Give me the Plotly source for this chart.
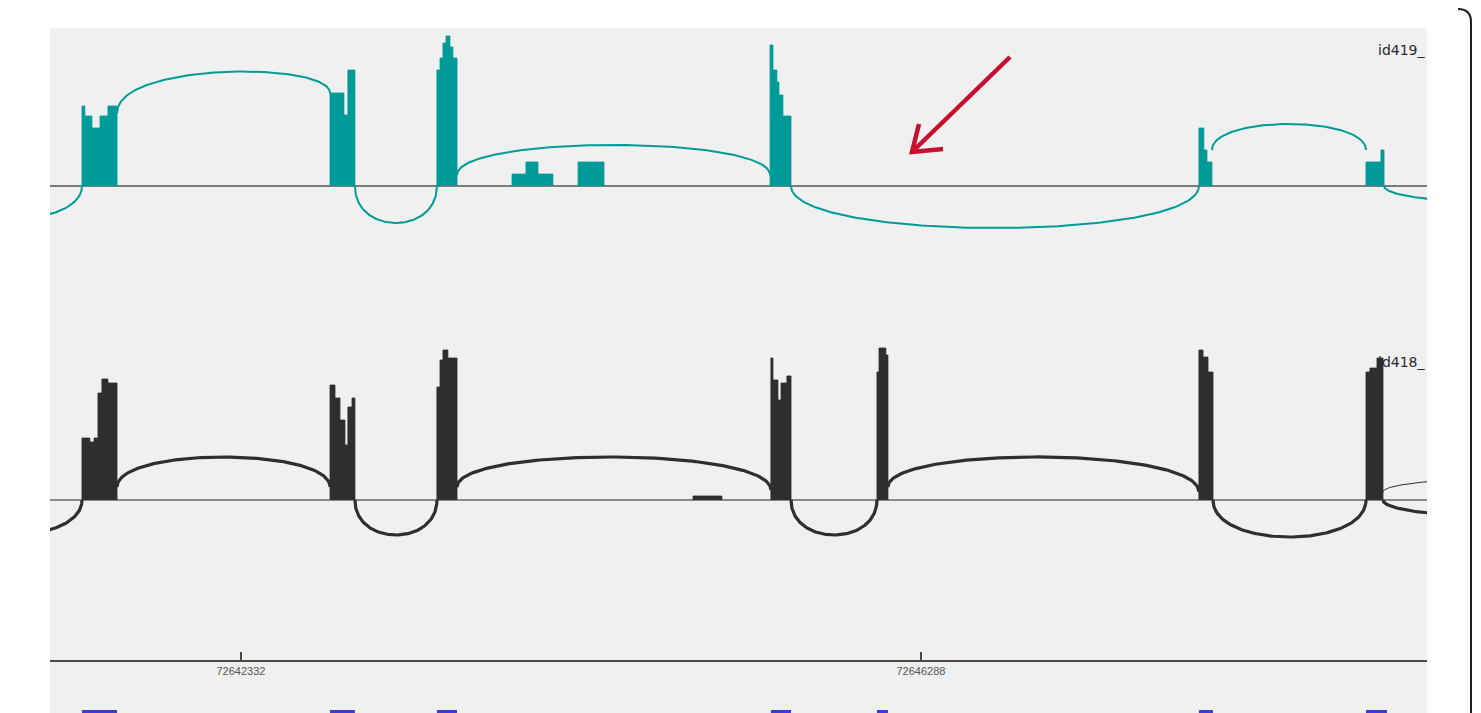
import numpy as np
import plotly.graph_objects as go

# ---------------- data ----------------
x_range = [72641221, 72649232]
tick_vals = [72642332, 72646288]
tick_text = ["72642332", "72646288"]

track_labels = ["id419_", "id418_"]

# top track (id419) coverage: exon breakpoints and step heights
top_cov_breaks = [
    [72641407, 72641424, 72641465, 72641512, 72641558, 72641611],
    [72642850, 72642931, 72642954, 72642995],
    [72643472, 72643490, 72643507, 72643525, 72643548, 72643565, 72643589],
    [72643909, 72643990, 72644060, 72644147],
    [72644293, 72644444],
    [72645410, 72645427, 72645450, 72645462, 72645485, 72645532],
    [72647905, 72647934, 72647952, 72647981],
    [72648877, 72648964, 72648982],
]
top_cov_heights = [
    [80, 70, 58, 70, 80],
    [93, 71, 116],
    [116, 128, 143, 150, 139, 128],
    [12, 24, 12],
    [24],
    [141, 116, 104, 91, 70],
    [58, 36, 24],
    [24, 36],
]

# top track junctions
top_j_start = [72640581, 72641611, 72642995, 72643589, 72645532, 72647981, 72648982]
top_j_end   = [72641407, 72642850, 72643472, 72645410, 72647905, 72648877, 72650820]
top_j_y0    = [0, 73, 0, 11, 0, 36, 0]
top_j_y1    = [0, 93, 0, 11, 0, 36, 0]
top_j_apex  = [-33, 114, -37, 41, -42, 62, -18]

# bottom track (id418) coverage
bot_cov_breaks = [
    [72641407, 72641453, 72641477, 72641500, 72641523, 72641558, 72641611],
    [72642850, 72642879, 72642908, 72642937, 72642954, 72642978, 72642995],
    [72643472, 72643490, 72643507, 72643536, 72643589],
    [72644962, 72645130],
    [72645415, 72645427, 72645456, 72645474, 72645508, 72645532],
    [72646032, 72646044, 72646084, 72646096],
    [72647905, 72647929, 72647958, 72647987],
    [72648877, 72648900, 72648941, 72648976],
]
bot_cov_heights = [
    [62, 58, 62, 107, 121, 117],
    [115, 102, 80, 55, 93, 102],
    [113, 140, 150, 142],
    [4],
    [142, 120, 100, 117, 124],
    [128, 152, 145],
    [150, 143, 128],
    [128, 132, 142],
]

# bottom track junctions
bot_j_start = [72640581, 72641611, 72642995, 72643589, 72645532, 72646096, 72647987, 72648976, 72648976]
bot_j_end   = [72641407, 72642850, 72643472, 72645415, 72646032, 72647905, 72648877, 72651402, 72650820]
bot_j_y0    = [0, 13, 0, 13, 0, 13, 0, 8, 0]
bot_j_y1    = [0, 13, 0, 10, 0, 8, 0, 8, 0]
bot_j_apex  = [-35, 43, -35, 43, -35, 43, -37, 24, -18]
bot_j_count = [35, 42, 38, 45, 40, 44, 36, 3, 30]

# gene model exons (bottom strip)
gene_exon_start = [72641407, 72642850, 72643472, 72645415, 72646032, 72647905, 72648877]
gene_exon_end   = [72641611, 72642995, 72643589, 72645532, 72646096, 72647987, 72648999]

TEAL = "#009b98"
DARK = "#2e2e2e"

OFF = 8                      # default page body margin
W, H = 1481 - OFF, 713 - OFF
# plot area in reference-image pixels: x 50..1427, y 28..713
ML, MT = 50 - OFF, 28 - OFF
MR, MB = W - (1427 - OFF), 0
PW, PH = W - ML - MR, H - MT - MB


def P(px, py):
    """reference-image pixel -> paper coords (decorations only)"""
    return (px - OFF - ML) / PW, (H - MB - (py - OFF)) / PH


def coverage_xy(breaks, heights):
    xs, ys = [], []
    for b, h in zip(breaks, heights):
        xs.append(b[0]); ys.append(0)
        for i, v in enumerate(h):
            xs += [b[i], b[i + 1]]
            ys += [v, v]
        xs.append(b[-1]); ys.append(0)
        xs.append(None); ys.append(None)
    return xs, ys


def arc(x0, x1, y0, y1, apex):
    Hc = (apex - 0.125 * (y0 + y1)) / 0.75
    t = np.linspace(0, 1, 120)
    x = (1 - t) ** 3 * x0 + 3 * (1 - t) ** 2 * t * x0 + 3 * (1 - t) * t ** 2 * x1 + t ** 3 * x1
    y = (1 - t) ** 3 * y0 + 3 * (1 - t) ** 2 * t * Hc + 3 * (1 - t) * t ** 2 * Hc + t ** 3 * y1
    return x, y


fig = go.Figure()

# coverage
for breaks, heights, col, ya in [(top_cov_breaks, top_cov_heights, TEAL, "y"),
                                 (bot_cov_breaks, bot_cov_heights, DARK, "y2")]:
    xs, ys = coverage_xy(breaks, heights)
    fig.add_trace(go.Scatter(x=xs, y=ys, mode="lines", fill="toself", fillcolor=col,
                             line=dict(color=col, width=0.8), yaxis=ya, hoverinfo="skip"))

# junction arcs
for s, e, a, b, ap in zip(top_j_start, top_j_end, top_j_y0, top_j_y1, top_j_apex):
    x, y = arc(s, e, a, b, ap)
    fig.add_trace(go.Scatter(x=x, y=y, mode="lines", line=dict(color=TEAL, width=2),
                             yaxis="y", hoverinfo="skip"))
for s, e, a, b, ap, c in zip(bot_j_start, bot_j_end, bot_j_y0, bot_j_y1, bot_j_apex, bot_j_count):
    x, y = arc(s, e, a, b, ap)
    fig.add_trace(go.Scatter(x=x, y=y, mode="lines",
                             line=dict(color=DARK, width=1 if c < 5 else 3.2),
                             yaxis="y2", hoverinfo="skip"))

shapes = []
# baselines
shapes.append(dict(type="line", xref="paper", yref="y", x0=0, x1=1, y0=0, y1=0,
                   line=dict(color="#7c7c7c", width=2), layer="below"))
shapes.append(dict(type="line", xref="paper", yref="y2", x0=0, x1=1, y0=0, y1=0,
                   line=dict(color="#8a8a8a", width=2), layer="below"))
# gene model blocks
for s, e in zip(gene_exon_start, gene_exon_end):
    shapes.append(dict(type="rect", xref="x", yref="paper", x0=s, x1=e, y0=0, y1=3 / PH,
                       fillcolor="#3c3cd2", line=dict(width=0)))
# red arrow
ax0, ay0 = P(1010, 57)
ax1, ay1 = P(913, 151)
shapes.append(dict(type="line", xref="paper", yref="paper", x0=ax0, y0=ay0, x1=ax1, y1=ay1,
                   line=dict(color="#c8102e", width=4.5)))
h1 = P(919, 124); h2 = P(912, 152); h3 = P(943, 149)
shapes.append(dict(type="path", xref="paper", yref="paper",
                   path=f"M {h1[0]},{h1[1]} L {h2[0]},{h2[1]} L {h3[0]},{h3[1]}",
                   line=dict(color="#c8102e", width=4.5)))
# right frame border with rounded corner (visible page area ends ~1473 px)
BX = 1471
b0 = P(BX, 713); b1 = P(BX, 22)
shapes.append(dict(type="line", xref="paper", yref="paper",
                   x0=b0[0], y0=b0[1], x1=b1[0], y1=b1[1],
                   line=dict(color="#1e1e1e", width=2)))
c0 = P(BX, 22); cc = P(BX, 9); c1 = P(1458, 9)
shapes.append(dict(type="path", xref="paper", yref="paper",
                   path=f"M {c0[0]},{c0[1]} Q {cc[0]},{cc[1]} {c1[0]},{c1[1]}",
                   line=dict(color="#1e1e1e", width=2)))

annotations = []
for lab, py in zip(track_labels, [50, 362]):
    annotations.append(dict(text=lab, xref="paper", yref="paper", x=1, y=P(0, py)[1],
                            xanchor="right", yanchor="middle", showarrow=False,
                            font=dict(family="DejaVu Sans", size=14, color="#2a2a2a")))

fig.update_layout(
    width=W, height=H,
    margin=dict(l=ML, r=MR, t=MT, b=MB, pad=0),
    paper_bgcolor="white", plot_bgcolor="#f0f0f0",
    showlegend=False,
    shapes=shapes, annotations=annotations,
    xaxis=dict(range=x_range, showgrid=False, zeroline=False,
               anchor="free", position=P(0, 661)[1],
               showline=True, linecolor="#4a4a4a", linewidth=2,
               ticks="inside", ticklen=8, tickwidth=2, tickcolor="#4a4a4a",
               tickvals=tick_vals, ticktext=tick_text,
               tickfont=dict(family="Liberation Sans, Arial", size=11, color="#555555"),
               fixedrange=True),
    yaxis=dict(range=[-(713 - 186), 186 - 28], visible=False, fixedrange=True),
    yaxis2=dict(range=[-(713 - 500), 500 - 28], visible=False, overlaying="y", fixedrange=True),
)

fig.write_html("out.html")
